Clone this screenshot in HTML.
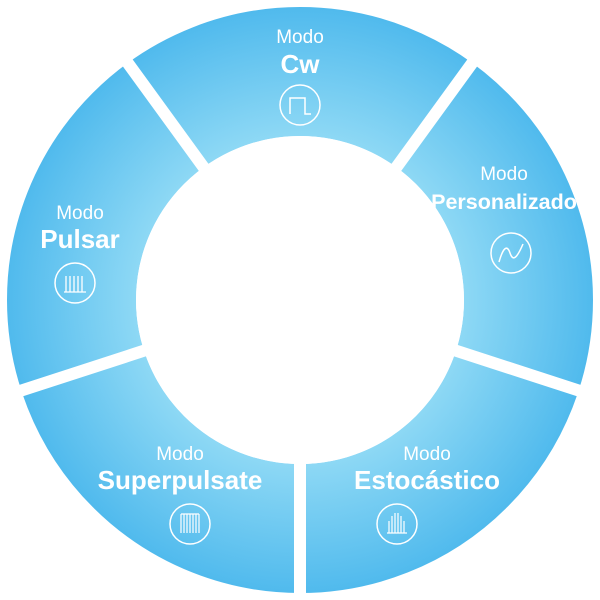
<!DOCTYPE html>
<html><head><meta charset="utf-8"><style>
html,body{margin:0;padding:0;background:#fff;}
svg{display:block}
text{font-family:"Liberation Sans",sans-serif;fill:#fff;text-anchor:middle}
.m{font-size:19px}
.b{font-size:26px;font-weight:bold}
</style></head><body>
<svg width="600" height="600" viewBox="0 0 600 600">
<defs>
<radialGradient id="g" cx="300" cy="300" r="293" gradientUnits="userSpaceOnUse">
<stop offset="0.55" stop-color="#8fd9f5"/>
<stop offset="1" stop-color="#50baed"/>
</radialGradient>
</defs>
<circle cx="300" cy="300" r="228.5" fill="none" stroke="url(#g)" stroke-width="129"/>
<g stroke="#fff" stroke-width="12">
<line x1="300" y1="300" x2="300" y2="0" transform="rotate(36 300 300)"/>
<line x1="300" y1="300" x2="300" y2="0" transform="rotate(108 300 300)"/>
<line x1="300" y1="300" x2="300" y2="0" transform="rotate(180 300 300)"/>
<line x1="300" y1="300" x2="300" y2="0" transform="rotate(252 300 300)"/>
<line x1="300" y1="300" x2="300" y2="0" transform="rotate(324 300 300)"/>
</g>
<circle cx="300" cy="300" r="164" fill="#fff"/>

<text class="m" x="300" y="43">Modo</text>
<text class="b" x="300" y="73">Cw</text>
<circle cx="300" cy="105" r="20" fill="none" stroke="#fff" stroke-width="1.5"/>
<path d="M290 114 V98 H305 V114 H311" fill="none" stroke="#fff" stroke-width="1.5"/>

<text class="m" x="504" y="180">Modo</text>
<text class="b" x="504" y="209" style="font-size:21.5px">Personalizado</text>
<circle cx="511" cy="253" r="20" fill="none" stroke="#fff" stroke-width="1.5"/>
<path d="M499 262 C503 248,507 244,510 253 C513 262,517 258,523 244" fill="none" stroke="#fff" stroke-width="1.5"/>

<text class="m" x="80" y="219">Modo</text>
<text class="b" x="80" y="248">Pulsar</text>
<circle cx="75" cy="283" r="20" fill="none" stroke="#fff" stroke-width="1.5"/>
<path d="M64 292 H86 M66 292 V276 M70 292 V276 M74 292 V276 M78 292 V276 M82 292 V276" fill="none" stroke="#fff" stroke-width="1.3"/>

<text class="m" x="180" y="460">Modo</text>
<text class="b" x="180" y="489">Superpulsate</text>
<circle cx="190" cy="524" r="20" fill="none" stroke="#fff" stroke-width="1.5"/>
<path d="M181 514 V533 M184 514 V533 M187 514 V533 M190 514 V533 M193 514 V533 M196 514 V533 M199 514 V533 M181 514 H199" fill="none" stroke="#fff" stroke-width="1.2"/>

<text class="m" x="427" y="460">Modo</text>
<text class="b" x="427" y="489">Estocástico</text>
<circle cx="397" cy="524" r="20" fill="none" stroke="#fff" stroke-width="1.5"/>
<path d="M387 533 H407 M389 533 V521 M392 533 V516 M395 533 V513 M398 533 V513 M401 533 V516 M404 533 V521" fill="none" stroke="#fff" stroke-width="1.2"/>
</svg>
</body></html>
